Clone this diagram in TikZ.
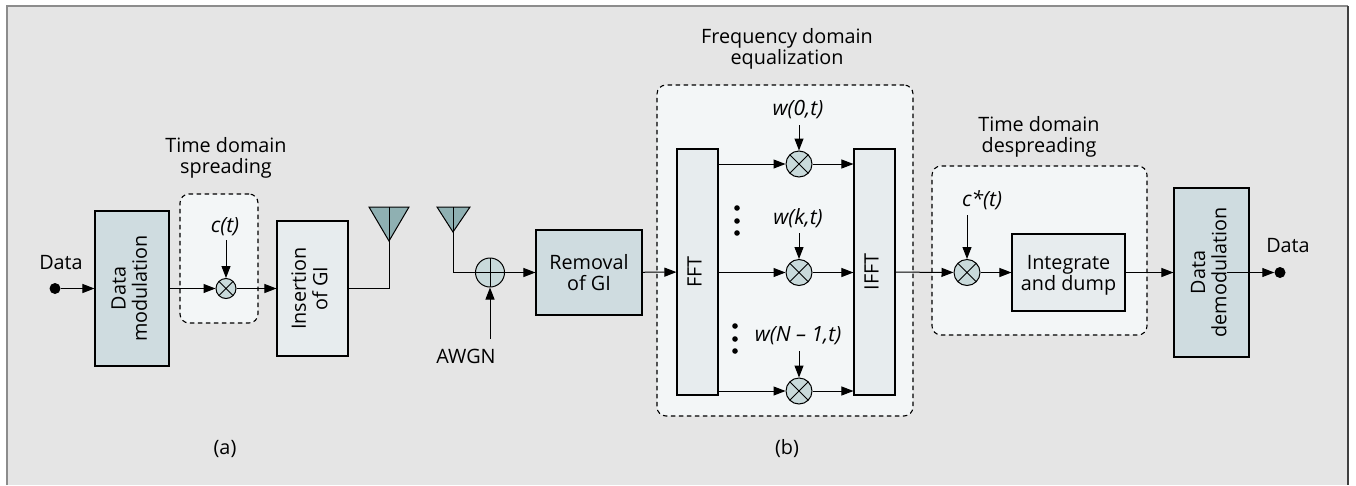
\documentclass[tikz,border=0pt]{standalone}
\usepackage{fontspec}
\setmainfont{Open Sans}
\usetikzlibrary{arrows.meta}
\newcommand{\sidetext}[1]{\rotatebox{90}{\begin{tabular}{@{}c@{}}#1\end{tabular}}}
\definecolor{panelgray}{HTML}{E5E5E5}
\definecolor{edgegray}{HTML}{8C8C8C}
\definecolor{grouptint}{HTML}{F3F6F7}
\definecolor{darkblock}{HTML}{CFDCE0}
\definecolor{paleblock}{HTML}{E7ECEE}
\definecolor{antennateal}{HTML}{8FB0B2}
\definecolor{mixtint}{HTML}{C9DADB}
\tikzset{
  link/.style={-{Triangle[length=12pt,width=9pt]},line width=1pt},
  wire/.style={line width=1pt},
  darkbox/.style={draw,line width=1.1pt,fill=darkblock,align=center,inner sep=0pt},
  palebox/.style={draw,line width=1.1pt,fill=paleblock,align=center,inner sep=0pt},
  group/.style={draw,dash pattern=on 4.5pt off 3.5pt,line width=1.1pt,fill=grouptint,rounded corners=9pt,inner sep=0pt},
  mixer/.style={circle,draw,line width=1pt,fill=mixtint,inner sep=0pt,minimum size=#1,
    path picture={\draw[line width=1pt]
      (path picture bounding box.north west) -- (path picture bounding box.south east)
      (path picture bounding box.north east) -- (path picture bounding box.south west);}},
  adder/.style={circle,draw,line width=1pt,fill=mixtint,inner sep=0pt,minimum size=29pt,
    path picture={\draw[line width=1pt]
      (path picture bounding box.north) -- (path picture bounding box.south)
      (path picture bounding box.east) -- (path picture bounding box.west);}},
  terminal/.style={circle,fill=black,inner sep=0pt,minimum size=11pt},
  caption/.style={align=center},
  gain/.style={font=\fontsize{21}{24}\selectfont\itshape}
}
\begin{document}
\begin{tikzpicture}[x=1pt,y=-1pt,every node/.style={font=\fontsize{19.8}{21}\selectfont}]
% Panel
\useasboundingbox (0,0) rectangle (1356,485);
\fill[white] (0,0) rectangle (1356,485);
\fill[panelgray] (7,6) rectangle (1348,485);
\draw[edgegray,line width=2.4pt] (7,485) -- (7,6) -- (1348,6);
\draw[black!75,line width=1.4pt] (1348,6) -- (1348,485);

% Transmitter (a)
\node[group,minimum width=78,minimum height=129] (spreadgroup) at (219,258.5) {};
\node[caption] (spreadtitle) at (226,158) {Time domain\\spreading};
\node[terminal] (datain) at (55,288.5) {};
\node (datainlabel) at (61,263) {Data};
\node[darkbox,minimum width=74,minimum height=155] (modulation) at (132,288.5) {\sidetext{Data\\modulation}};
\node[mixer=20pt] (spreader) at (226,288.5) {};
\node[gain] (code) at (225,227) {c(t)};
\coordinate (codetop) at (226,240);
\node[palebox,minimum width=71,minimum height=135] (insertion) at (312.5,288.5) {\sidetext{Insertion\\of GI}};
\draw[fill=antennateal,line width=1pt] (369,207) -- (409,207) -- (389,241) -- cycle;
\coordinate (txtop) at (389,207);

\draw[link] (datain) -- (modulation);
\draw[link] (modulation) -- (spreader);
\draw[link] (spreader) -- (insertion);
\draw[link] (codetop) -- (spreader);
\draw[wire] (insertion.east) -| (txtop);

\node (alabel) at (225,449) {(a)};

% Receiver (b)
\draw[fill=antennateal,line width=1pt] (437,207) -- (470,207) -- (453,232) -- cycle;
\coordinate (rxtop) at (453,207);
\node[adder] (awgnsum) at (490,272.5) {};
\node (awgnlabel) at (466,356) {AWGN};
\coordinate (awgntop) at (490,339);
\node[darkbox,minimum width=106,minimum height=85] (removal) at (589,272.5) {Removal\\of GI};

\draw[wire] (rxtop) |- (awgnsum);
\draw[link] (awgntop) -- (awgnsum);
\draw[link] (awgnsum) -- (removal);

% Frequency domain equalization
\node[group,minimum width=256,minimum height=331] (eqgroup) at (785,250.5) {};
\node[caption] (eqtitle) at (787,49) {Frequency domain\\equalization};
\node[palebox,minimum width=41,minimum height=246] (fft) at (697.5,272) {\sidetext{FFT}};
\node[palebox,minimum width=41,minimum height=246] (ifft) at (874.5,272) {\sidetext{IFFT}};

\foreach \name/\ypos/\lbl/\toplen in {first/164/{w(0,t)}/55,mid/272.5/{w(k,t)}/55.5,last/391/{w(N -- 1,t)}/56}{
  \node[mixer=26pt] (mix\name) at (799,\ypos) {};
  \node[gain] (gain\name) at (798,\ypos-\toplen+1) {\lbl};
  \coordinate (gaintop\name) at (799,\ypos-\toplen+16);
  \draw[link] (gaintop\name) -- (mix\name);
  \draw[link] (mix\name -| fft.east) -- (mix\name);
  \draw[link] (mix\name) -- (mix\name -| ifft.west);
}

\foreach \ypos in {208,221,233}
  \fill (737,\ypos) circle (2.8);
\foreach \ypos in {326,339,351}
  \fill (735,\ypos) circle (2.8);

\draw[link] (removal) -- (fft);

% Time domain despreading
\node[group,minimum width=215,minimum height=169] (despreadgroup) at (1039.5,250.5) {};
\node[caption] (despreadtitle) at (1039,136.5) {Time domain\\despreading};
\node[mixer=26pt] (despreader) at (967,272.5) {};
\node[gain] (conjcode) at (982,200) {c*(t)};
\coordinate (conjtop) at (967,215);
\node[palebox,minimum width=113,minimum height=77,text depth=0pt] (integrate) at (1068.5,272.5) {Integrate\\and dump};
\node[darkbox,minimum width=75,minimum height=169] (demod) at (1211.5,272.5) {\sidetext{Data\\demodulation}};
\node[terminal] (dataout) at (1280,272.5) {};
\node (dataoutlabel) at (1288,246) {Data};
\coordinate (demodtap) at (1227,272.5);

\draw[link] (ifft) -- (despreader);
\draw[link] (conjtop) -- (despreader);
\draw[link] (despreader) -- (integrate);
\draw[link] (integrate) -- (demod);
\draw[link] (demodtap) -- (dataout);

\node (blabel) at (787,449) {(b)};
\end{tikzpicture}
\end{document}
